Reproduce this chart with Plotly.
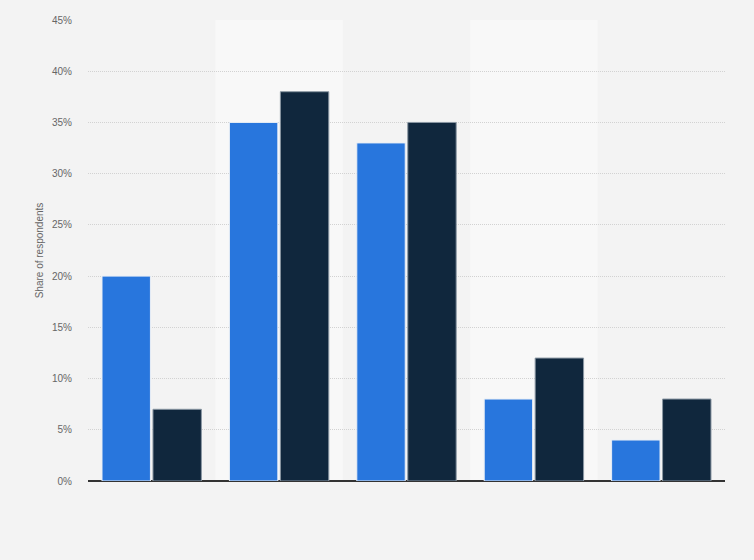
import plotly.graph_objects as go

# categories (no visible labels in the reference)
categories = ["A", "B", "C", "D", "E"]
series_1 = [20, 35, 33, 8, 4]
series_2 = [7, 38, 35, 12, 8]
y_ticks = [0, 5, 10, 15, 20, 25, 30, 35, 40, 45]

fig = go.Figure()
fig.add_trace(go.Bar(x=categories, y=series_1, name="Series 1",
                     marker=dict(color="#2876dd", line=dict(color="#e8eef6", width=1))))
fig.add_trace(go.Bar(x=categories, y=series_2, name="Series 2",
                     marker=dict(color="#10273d", line=dict(color="#8a97a3", width=1))))

# lighter column bands behind the 2nd and 4th groups
shapes = []
for i in [1, 3]:
    shapes.append(dict(type="rect", xref="x", yref="paper", x0=i - 0.5, x1=i + 0.5,
                       y0=0, y1=1, fillcolor="#f8f8f8", line=dict(width=0), layer="below"))

fig.update_layout(
    width=754, height=560,
    margin=dict(l=88, r=29, t=20, b=79),
    paper_bgcolor="#f3f3f3", plot_bgcolor="#f3f3f3",
    barmode="group", bargap=0.2, bargroupgap=0.05,
    showlegend=False,
    shapes=shapes,
    font=dict(family="Arial, Liberation Sans", size=10, color="#666666"),
    xaxis=dict(showticklabels=False, ticks="", showgrid=False, showline=False),
    yaxis=dict(range=[0, 45], tickvals=y_ticks, ticktext=[f"{v}%" for v in y_ticks],
               showgrid=True, gridcolor="#d2d2d2", griddash="1px,1px", gridwidth=1,
               zeroline=True, zerolinecolor="#333333", zerolinewidth=1.5,
               title=dict(text="Share of respondents", font=dict(size=10, color="#666666"), standoff=6),
               tickfont=dict(size=10, color="#666666"), ticks="", ticklabelstandoff=15),
)

fig.write_html("out.html", config={"displayModeBar": False},
               post_script="document.body.style.margin='0';")
